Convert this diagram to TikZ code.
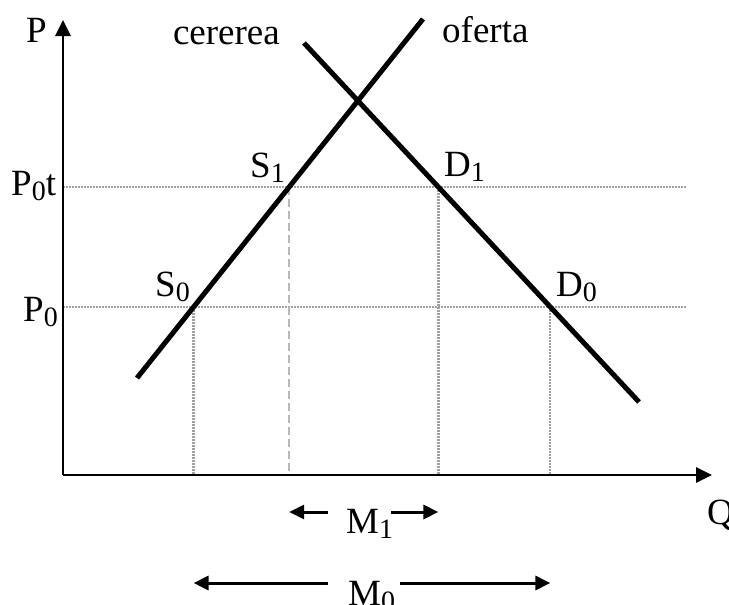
\documentclass[tikz,border=0pt]{standalone}
\usepackage{fontspec}
\setmainfont{Liberation Serif}
\usetikzlibrary{arrows.meta,positioning,calc}
\definecolor{marketink}{RGB}{0,0,0}
\definecolor{marketguide}{RGB}{160,160,160}
\definecolor{marketdash}{RGB}{185,185,185}
\newcommand{\mksub}[1]{\raisebox{-5pt}{\fontsize{28}{28}\selectfont #1}}
\tikzset{
  market curve/.style={
    draw=marketink,
    line width=5pt,
  },
  market axis/.style={
    -{Triangle[length=16pt,width=15pt]},
    line width=2.8pt,
    draw=marketink,
  },
  market guide/.style={
    draw=marketguide,
    line width=2.2pt,
    dash pattern=on 2pt off 1pt,
  },
  market dash/.style={
    draw=marketdash,
    line width=1.8pt,
    dash pattern=on 8pt off 4pt,
  },
  market gap/.style={
    -{Triangle[length=15pt,width=14pt]},
    line width=3pt,
    draw=marketink,
  },
  market label/.style={
    inner sep=0pt,
    anchor=base west,
    font=\fontsize{37}{42}\selectfont,
  },
}

\begin{document}
\begin{tikzpicture}[x=1pt,y=-1pt]
  \useasboundingbox (0,0) rectangle (729,605);
  % axes and curve ends
  \coordinate (o) at (63,475);
  \coordinate (ptop) at (63,20);
  \coordinate (qend) at (712,475);
  \coordinate (sup a) at (137,378);
  \coordinate (sup b) at (423,19);
  \coordinate (dem a) at (304,43);
  \coordinate (dem b) at (639,402);
  % price levels
  \coordinate (pt a) at (63,187);
  \coordinate (pt b) at (687,187);
  \coordinate (p a) at (63,307);
  \coordinate (p b) at (687,307);
  \coordinate (s1) at (intersection of sup a--sup b and pt a--pt b);
  \coordinate (s0) at (intersection of sup a--sup b and p a--p b);
  \coordinate (d1) at (intersection of dem a--dem b and pt a--pt b);
  \coordinate (d0) at (intersection of dem a--dem b and p a--p b);
  \coordinate (s1 q) at (s1 |- o);
  \coordinate (s0 q) at (s0 |- o);
  \coordinate (d1 q) at (d1 |- o);
  \coordinate (d0 q) at (d0 |- o);

  \draw[market guide] (pt a) -- (pt b);
  \draw[market guide] (p a) -- (p b);
  \draw[market guide] (s0) -- (s0 q);
  \draw[market guide] (d1) -- (d1 q);
  \draw[market guide] (d0) -- (d0 q);
  \draw[market dash] (s1) -- (s1 q);

  \draw[market axis] (o) -- (ptop);
  \draw[market axis] (o) -- (qend);
  \draw[market curve] (sup a) -- (sup b);
  \draw[market curve] (dem a) -- (dem b);

  \node[market label] (p lab) at (26,42) {P};
  \node[market label] (q lab) at (707,524) {Q};
  \node[market label, anchor=base east] (dem lab) at (280,45) {cererea};
  \node[market label] (sup lab) at (442,42) {oferta};
  \node[market label] (pt lab) at (11,195) {P\mksub{0}t};
  \node[market label] (p0 lab) at (23,321) {P\mksub{0}};
  \node[market label] (s1 lab) at (250,177) {S\mksub{1}};
  \node[market label] (s0 lab) at (155,296) {S\mksub{0}};
  \node[market label] (d1 lab) at (444,176) {D\mksub{1}};
  \node[market label] (d0 lab) at (556,296) {D\mksub{0}};

  % import gaps
  \node[market label] (m1) at (346,533) {M\mksub{1}};
  \node[market label] (m0) at (348,605) {M\mksub{0}};
  \coordinate (m1 l) at (328,512);
  \coordinate (m1 r) at (391,512);
  \coordinate (m0 l) at (328,583);
  \coordinate (m0 r) at (400,583);
  \draw[market gap] (m1 l) -- (m1 l -| s1);
  \draw[market gap] (m1 r) -- (m1 r -| d1);
  \draw[market gap] (m0 l) -- (m0 l -| s0);
  \draw[market gap] (m0 r) -- (m0 r -| d0);
\end{tikzpicture}
\end{document}
